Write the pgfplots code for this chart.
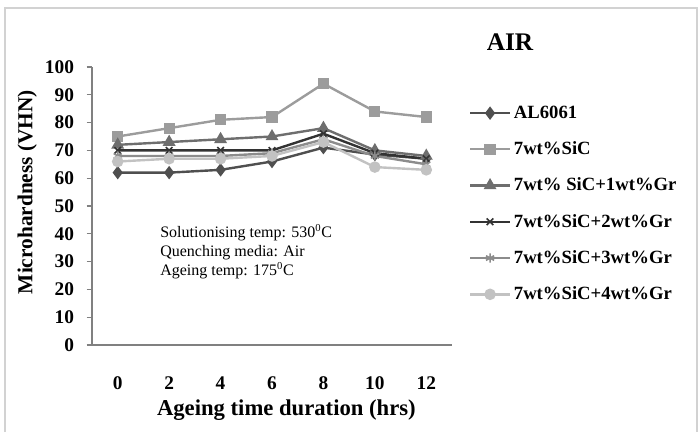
\documentclass[border=0pt]{standalone}
\usepackage{fontspec}
\setmainfont{Liberation Serif}
\usepackage{pgfplots}
\pgfplotsset{compat=1.18}
\usetikzlibrary{plotmarks}

\definecolor{cAL}{HTML}{4F4F4F}
\definecolor{cSiC}{HTML}{9C9C9C}
\definecolor{cGrA}{HTML}{6E6E6E}
\definecolor{cGrB}{HTML}{333333}
\definecolor{cGrC}{HTML}{8C8C8C}
\definecolor{cGrD}{HTML}{C2C2C2}

\begin{document}
\begin{tikzpicture}[x=0.75pt,y=0.75pt]
  \useasboundingbox (0,0) rectangle (699,432);
  % frame of the figure
  \draw[gray!35, line width=2.2pt] (5,0) -- (5,424) -- (697,424) -- (697,0);

  \begin{axis}[
      at={(69pt,65.25pt)}, anchor=south west,
      scale only axis,
      width=270pt, height=208.5pt,
      xmin=-0.5, xmax=6.5,
      ymin=0, ymax=100,
      xtick={0,1,2,3,4,5,6},
      xticklabels={0,2,4,6,8,10,12},
      minor xtick={-0.5,0.5,1.5,2.5,3.5,4.5,5.5,6.5},
      ytick={0,10,...,100},
      axis x line*=bottom, axis y line*=left,
      axis line style={gray, line width=0.8pt},
      tick align=outside,
      major tick length=4pt, minor tick length=4pt,
      xtick style={draw=none},
      minor x tick style={gray, line width=0.8pt},
      y tick style={gray, line width=0.8pt},
      /pgf/number format/assume math mode=true,
      ticklabel style={font=\fontsize{14.5}{16}\selectfont\bfseries},
      xticklabel style={yshift=-16pt},
      yticklabel style={xshift=-6pt},
      xlabel={Ageing time duration (hrs)},
      ylabel={Microhardness (VHN)},
      xlabel style={at={(axis description cs:0.54,-0.234)}, anchor=center,
        font=\fontsize{17}{19}\selectfont\bfseries},
      ylabel style={at={(axis description cs:-0.18,0.55)}, anchor=center,
        font=\fontsize{16}{18}\selectfont\bfseries},
      legend style={draw=none, fill=none, at={(1.035,0.88)}, anchor=north west,
        font=\fontsize{14}{16}\selectfont\bfseries, row sep=12pt,
        /tikz/every even column/.append style={column sep=2pt}},
      legend cell align=left,
      legend image code/.code={\draw[mark repeat=2,mark phase=2]
        plot coordinates {(0pt,0pt) (15pt,0pt) (30pt,0pt)};},
      every axis plot/.append style={line width=1.8pt},
    ]
    \addplot[cAL, mark=diamond*, mark size=3.6pt] coordinates {
      (0,62) (1,62) (2,63) (3,66) (4,71) (5,68.5) (6,67)};
    \addlegendentry{AL6061}
    \addplot[cSiC, mark=square*, mark size=3.3pt] coordinates {
      (0,75) (1,78) (2,81) (3,82) (4,94) (5,84) (6,82)};
    \addlegendentry{7wt\%SiC}
    \addplot[cGrA, mark=triangle*, mark size=3.8pt] coordinates {
      (0,72) (1,73) (2,74) (3,75) (4,78) (5,70) (6,68)};
    \addlegendentry{7wt\% SiC+1wt\%Gr}
    \addplot[cGrB, mark=x, mark size=3.5pt, mark options={line width=1.2pt}] coordinates {
      (0,70) (1,70) (2,70) (3,70) (4,76) (5,69) (6,67)};
    \addlegendentry{7wt\%SiC+2wt\%Gr}
    \addplot[cGrC, mark=asterisk, mark size=3.5pt, mark options={line width=1.2pt}] coordinates {
      (0,68) (1,68) (2,68) (3,69) (4,74) (5,68) (6,65)};
    \addlegendentry{7wt\%SiC+3wt\%Gr}
    \addplot[cGrD, mark=*, mark size=3.4pt] coordinates {
      (0,66) (1,67) (2,67) (3,68) (4,73) (5,64) (6,63)};
    \addlegendentry{7wt\%SiC+4wt\%Gr}
  \end{axis}

  \node[font=\fontsize{19}{21}\selectfont\bfseries] at (510,390) {AIR};
  \node[anchor=north west, align=left, inner sep=0pt,
        font=\fontsize{12}{14.25}\selectfont] at (160,208)
    {Solutionising temp: 530\textsuperscript{0}C\\
     Quenching media: Air\\
     Ageing temp: 175\textsuperscript{0}C};
\end{tikzpicture}
\end{document}
